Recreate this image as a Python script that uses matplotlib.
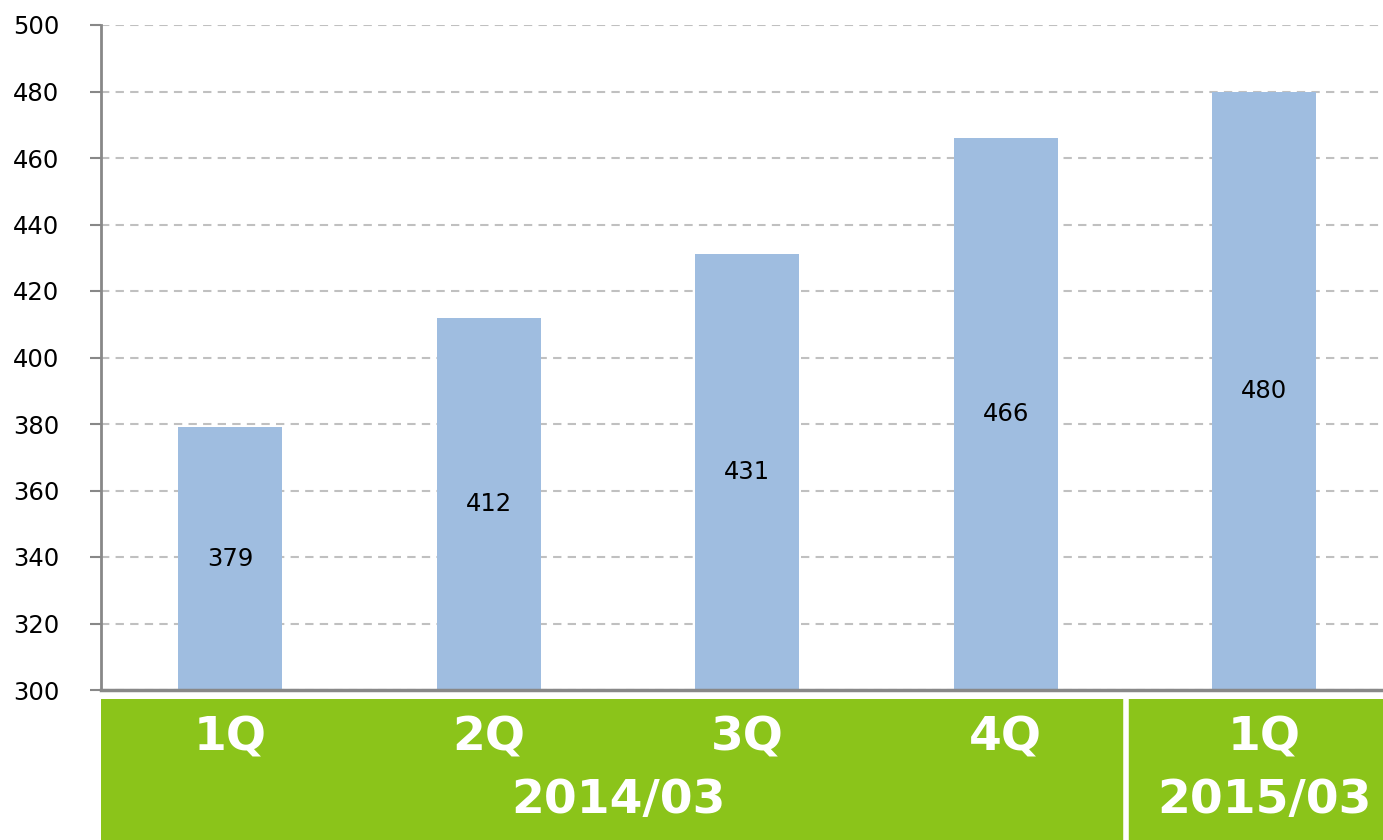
import matplotlib

matplotlib.use("Agg")
import matplotlib.pyplot as plt

quarters = ["1Q", "2Q", "3Q", "4Q", "1Q"]
values = [379, 412, 431, 466, 480]
fiscal_years = ["2014/03", "2015/03"]
year_counts = [4, 1]
y_ticks = [300, 320, 340, 360, 380, 400, 420, 440, 460, 480, 500]

bar_color = "#9FBDE0"
green = "#8BC41A"

plt.rcParams["font.family"] = ["DejaVu Sans"]

fig = plt.figure(figsize=(13.83, 8.4), dpi=100)
ax_rect = [101 / 1383, 150 / 840, 1 - 101 / 1383, 665 / 840]
ax = fig.add_axes(ax_rect)

# the last category is cut by the right edge of the picture
x_max = -0.5 + 1282 / 258.5

x = list(range(len(values)))
ax.bar(x, values, width=0.402, color=bar_color, zorder=2)
for xi, v in zip(x, values):
    ax.text(xi, (300 + v) / 2, str(v), ha="center", va="center", fontsize=17.5, color="black", zorder=3)

ax.set_xlim(-0.5, x_max)
ax.set_ylim(300, 500)
ax.set_yticks(y_ticks)
ax.tick_params(axis="y", labelsize=17.5, length=8, width=1.5, color="#888888", pad=22)
ax.set_xticks([])
ax.yaxis.grid(True, linestyle=(0, (4, 3)), color="#C0C0C0", linewidth=1.5, zorder=0)
for side in ("top", "right"):
    ax.spines[side].set_visible(False)
ax.spines["left"].set_color("#888888")
ax.spines["left"].set_linewidth(2)
ax.spines["bottom"].set_color("#888888")
ax.spines["bottom"].set_linewidth(2.5)

# green category band under the plot
band = fig.add_axes([ax_rect[0], 0, ax_rect[2], 141 / 840])
band.set_xlim(-0.5, x_max)
band.set_ylim(0, 1)
band.axis("off")
start = -0.5
for fy, n in zip(fiscal_years, year_counts):
    band.axvspan(start, start + n, color=green, zorder=1)
    band.text(start + n / 2, 0.28, fy, ha="center", va="center", fontsize=34,
              fontweight="bold", color="white")
    start += n
    if start < len(values) - 0.5:
        band.axvline(start - 0.035, color="white", linewidth=4, zorder=2)
for xi, q in zip(x, quarters):
    band.text(xi, 0.72, q, ha="center", va="center", fontsize=34, fontweight="bold", color="white")

fig.savefig("out.png", dpi=100)
